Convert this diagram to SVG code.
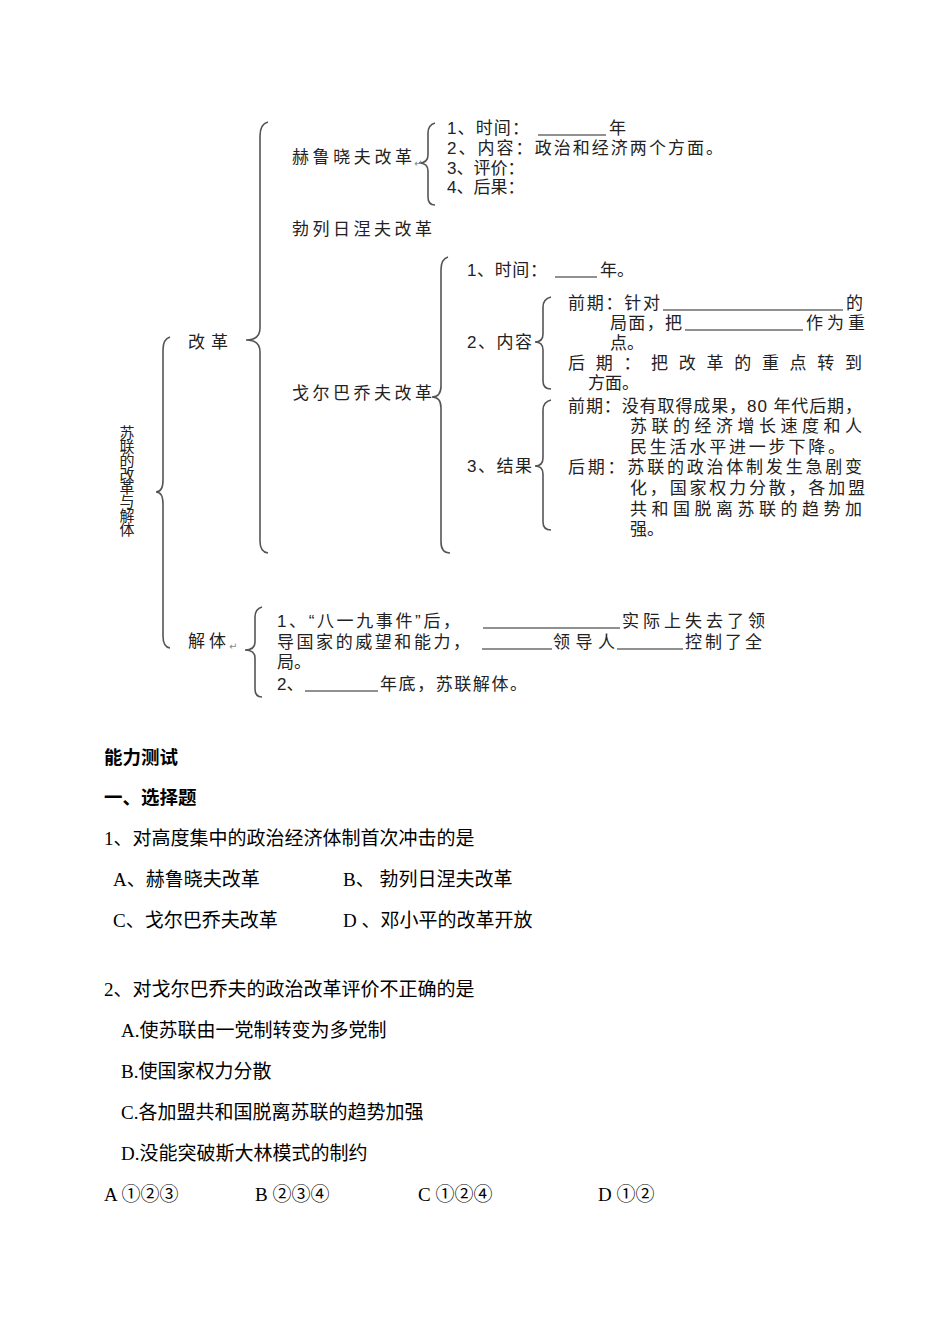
<svg xmlns="http://www.w3.org/2000/svg" width="950" height="1342" viewBox="0 0 950 1342">
<style>
.d{font-family:"Liberation Sans","Noto Sans CJK SC",sans-serif;font-size:17px;fill:#222}
.v{font-family:"Liberation Sans","Noto Sans CJK SC",sans-serif;font-size:15px;letter-spacing:-1.2px;fill:#222;writing-mode:tb}
.q{font-family:"Liberation Serif","Noto Sans CJK SC",serif;font-size:19px;fill:#000}
.b{font-family:"Liberation Sans","Noto Sans CJK SC",sans-serif;font-size:18.5px;font-weight:bold;fill:#000}
.br{fill:none;stroke:#555;stroke-width:1.6}
.ul{stroke:#222;stroke-width:1}
.rt{font-family:"DejaVu Sans",sans-serif;font-size:10px;fill:#888}
</style>
<rect width="950" height="1342" fill="#fff"/>
<g id="connectors">
<path class="br" d="M170,337 Q163,339 163,350 L163,480 Q163,492 156,492 Q163,492 163,504 L163,636 Q163,647 170,648"/>
<path class="br" d="M268,122 Q260,124 260,136 L260,328 Q260,340 246,340 Q260,340 260,352 L260,541 Q260,552 268,553"/>
<path class="br" d="M435,123 Q428,125 428,133 L428,155 Q428,163 419,163 Q428,163 428,171 L428,197 Q428,205 435,205"/>
<path class="br" d="M448,257 Q441,259 441,270 L441,386 Q441,397 432,397 Q441,397 441,408 L441,542 Q441,553 450,553"/>
<path class="br" d="M551,297 Q543,299 543,307 L543,334 Q543,342 535,342 Q543,342 543,350 L543,381 Q543,389 551,389"/>
<path class="br" d="M551,400 Q543,402 543,410 L543,458 Q543,466 535,466 Q543,466 543,474 L543,522 Q543,530 551,530"/>
<path class="br" d="M262,607 Q255,609 255,617 L255,642 Q255,650 245,650 Q255,650 255,658 L255,689 Q255,697 262,697"/>
</g>
<g id="root">
<text class="v" x="126" y="425">苏联的改革与解体</text>
</g>
<g id="reform"><text class="d" x="188" y="348" textLength="40">改革</text></g>
<g id="khrushchev">
<text class="d" x="292" y="163" textLength="120">赫鲁晓夫改革</text>
<text class="rt" x="414" y="167">↵</text>
</g>
<g id="khrushchev-items">
<text class="d" x="447" y="134" textLength="82">1、时间：</text>
<line class="ul" x1="538" y1="135" x2="606" y2="135"/>
<text class="d" x="609" y="134">年</text>
<text class="d" x="447" y="154" textLength="276">2、内容：政治和经济两个方面。</text>
<text class="d" x="447" y="174">3、评价：</text>
<text class="d" x="447" y="193">4、后果：</text>
</g>
<g id="brezhnev"><text class="d" x="292" y="235" textLength="140">勃列日涅夫改革</text></g>
<g id="gorbachev"><text class="d" x="292" y="399" textLength="140">戈尔巴乔夫改革</text></g>
<g id="g-time">
<text class="d" x="467" y="276" textLength="80">1、时间：</text>
<line class="ul" x1="555" y1="277" x2="597" y2="277"/>
<text class="d" x="600" y="276">年。</text>
</g>
<g id="g-content">
<text class="d" x="467" y="348" textLength="65">2、内容</text>
<text class="d" x="568" y="309" textLength="92">前期：针对</text>
<line class="ul" x1="663" y1="310" x2="843" y2="310"/>
<text class="d" x="846" y="309">的</text>
<text class="d" x="610" y="329" textLength="72">局面，把</text>
<line class="ul" x1="685" y1="330" x2="803" y2="330"/>
<text class="d" x="806" y="329" textLength="59">作为重</text>
<text class="d" x="610" y="349">点。</text>
<text class="d" x="568" y="369" textLength="294">后期：把改革的重点转到</text>
<text class="d" x="588" y="389">方面。</text>
</g>
<g id="g-result">
<text class="d" x="467" y="472" textLength="65">3、结果</text>
<text class="d" x="568" y="412" textLength="294">前期：没有取得成果，80 年代后期，</text>
<text class="d" x="630" y="432" textLength="232">苏联的经济增长速度和人</text>
<text class="d" x="630" y="453" textLength="215">民生活水平进一步下降。</text>
<text class="d" x="568" y="473" textLength="294">后期：苏联的政治体制发生急剧变</text>
<text class="d" x="630" y="494" textLength="235">化，国家权力分散，各加盟</text>
<text class="d" x="630" y="515" textLength="232">共和国脱离苏联的趋势加</text>
<text class="d" x="630" y="535">强。</text>
</g>
<g id="dissolution">
<text class="d" x="188" y="647" textLength="38">解体</text>
<text class="rt" x="229" y="650">↵</text>
</g>
<g id="dissolution-items">
<text class="d" x="277" y="627" textLength="183">1、“八一九事件”后，</text>
<line class="ul" x1="483" y1="628" x2="620" y2="628"/>
<text class="d" x="622" y="627" textLength="143">实际上失去了领</text>
<text class="d" x="277" y="648" textLength="193">导国家的威望和能力，</text>
<line class="ul" x1="482" y1="649" x2="552" y2="649"/>
<text class="d" x="553" y="648" textLength="62">领导人</text>
<line class="ul" x1="617" y1="649" x2="683" y2="649"/>
<text class="d" x="685" y="648" textLength="77">控制了全</text>
<text class="d" x="277" y="668">局。</text>
<text class="d" x="277" y="690">2、</text>
<line class="ul" x1="305" y1="691" x2="378" y2="691"/>
<text class="d" x="380" y="690" textLength="147">年底，苏联解体。</text>
</g>
<g id="questions">
<text class="b" x="104" y="764">能力测试</text>
<text class="b" x="104" y="804">一、选择题</text>
<text class="q" x="104" y="845">1、对高度集中的政治经济体制首次冲击的是</text>
<text class="q" x="113" y="886">A、赫鲁晓夫改革</text>
<text class="q" x="343" y="886">B、 勃列日涅夫改革</text>
<text class="q" x="113" y="927">C、戈尔巴乔夫改革</text>
<text class="q" x="343" y="927">D 、邓小平的改革开放</text>
<text class="q" x="104" y="996">2、对戈尔巴乔夫的政治改革评价不正确的是</text>
<text class="q" x="121" y="1037">A.使苏联由一党制转变为多党制</text>
<text class="q" x="121" y="1078">B.使国家权力分散</text>
<text class="q" x="121" y="1119">C.各加盟共和国脱离苏联的趋势加强</text>
<text class="q" x="121" y="1160">D.没能突破斯大林模式的制约</text>
<text class="q" x="104" y="1201">A ①②③</text>
<text class="q" x="255" y="1201">B ②③④</text>
<text class="q" x="418" y="1201">C ①②④</text>
<text class="q" x="598" y="1201">D ①②</text>
</g>
</svg>
